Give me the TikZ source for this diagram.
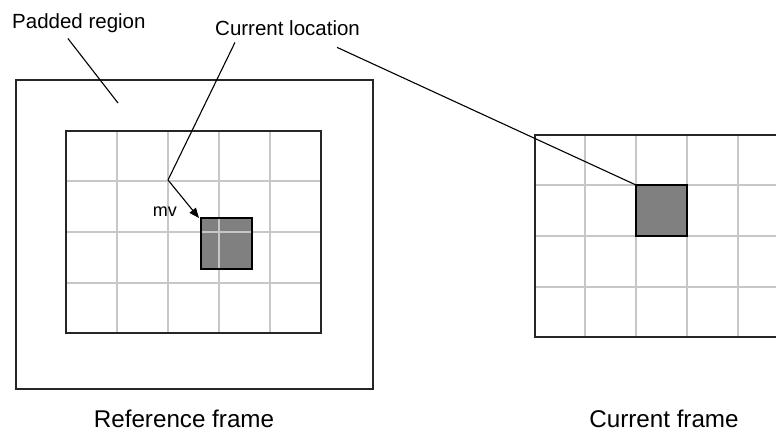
\documentclass[tikz,border=0pt]{standalone}
\usepackage{fontspec}
\setmainfont{Liberation Sans}
\usetikzlibrary{arrows.meta,calc}

\begin{document}
\begin{tikzpicture}[x=1pt,y=-1pt,
  framebox/.style={draw=black!85, line width=2pt},
  gridline/.style={draw=black!22, line width=2pt},
  blk/.style={fill=black!50},
  blkedge/.style={draw=black, line width=1.5pt},
  leader/.style={draw=black, line width=1.1pt},
  tag/.style={font=\fontsize{20.5}{24}\selectfont, inner sep=0pt},
  caption/.style={font=\fontsize{24.2}{28}\selectfont, inner sep=0pt}]
\clip (0,0) rectangle (776,432);
\fill[white] (0,0) rectangle (776,432);

% Reference frame: block, grid, borders
\fill[blk] (201,218) rectangle (252,269);
\foreach \x in {117,168,219,270}
  \draw[gridline] (\x,131) -- (\x,333);
\foreach \y in {181,232,283}
  \draw[gridline] (66,\y) -- (321,\y);
\draw[blkedge] (201,218) rectangle (252,269);
\draw[framebox] (66,131) rectangle (321,333);
\draw[framebox] (16,80) rectangle (373,389);

% Current frame (runs off the right side)
\foreach \x in {585,636,687,738}
  \draw[gridline] (\x,135) -- (\x,337);
\foreach \y in {185,236,287}
  \draw[gridline] (535,\y) -- (789,\y);
\fill[blk] (636,185) rectangle (687,236);
\draw[blkedge] (636,185) rectangle (687,236);
\draw[framebox] (535,135) rectangle (789,337);

% Points the labels refer to
\coordinate (padtip) at (118,103);
\coordinate (reftip) at (168,180);
\coordinate (curtip) at (636,185);
\coordinate (mvtip) at (199,218);

% Labels
\node[tag, anchor=base west] (padded) at (12,28) {Padded region};
\node[tag, anchor=base west] (curloc) at (215,35) {Current location};
\node[tag, font=\fontsize{18}{20}\selectfont, anchor=base east] (mv) at (177,216) {mv};
\node[caption, anchor=base] (refcap) at (184,427) {Reference frame};
\node[caption, anchor=base] (curcap) at (664,427) {Current frame};

% Leader lines and motion vector
\draw[leader] ($(padded.south)+(-11,6)$) -- (padtip);
\draw[leader] ($(curloc.south west)+(20,7)$) -- (reftip);
\draw[leader] ($(curloc.south east)+(-23,12)$) -- (curtip);
\draw[leader, -{Triangle[length=10pt,width=8pt]}] (reftip) -- (mvtip);
\end{tikzpicture}
\end{document}
